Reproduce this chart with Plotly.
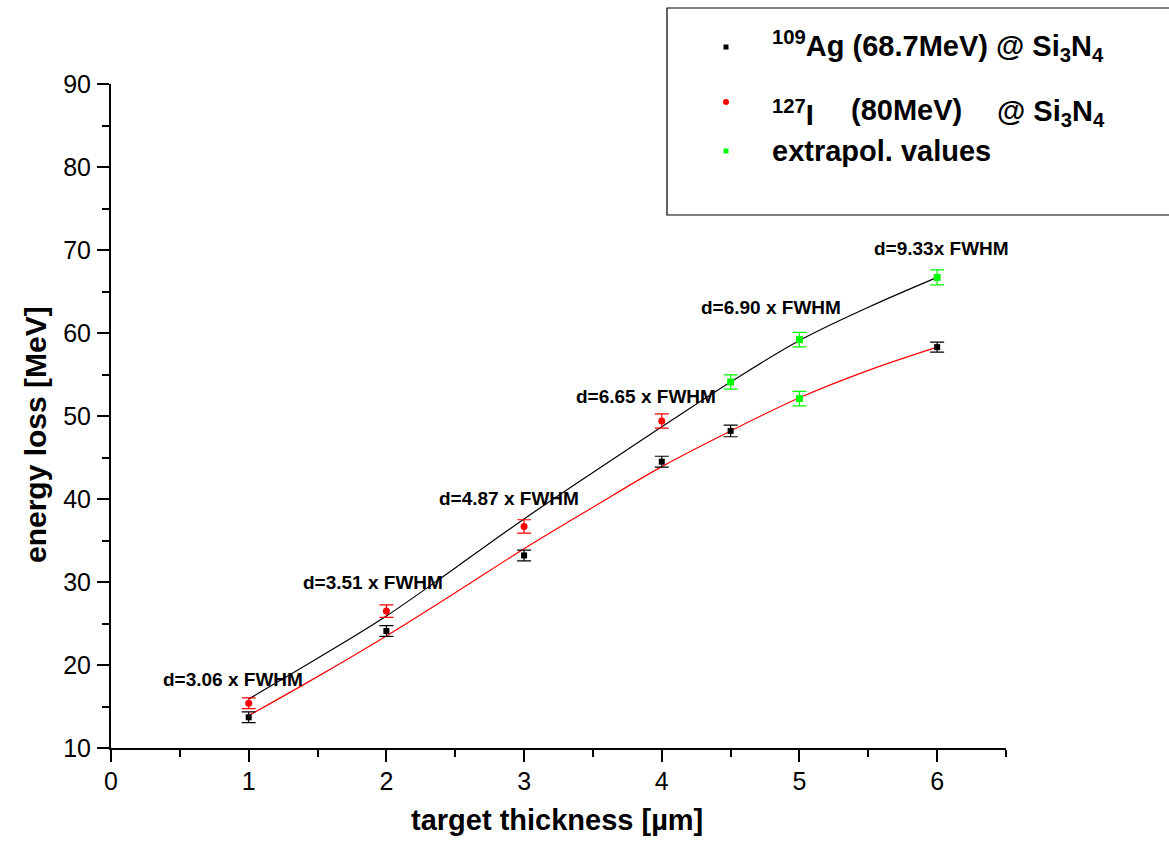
import plotly.graph_objects as go

# ---- measured energy losses ----
ag_x = [1, 2, 3, 4, 4.5, 6]
ag_y = [13.7, 24.1, 33.2, 44.5, 48.2, 58.3]
ag_err = [0.65, 0.65, 0.65, 0.65, 0.7, 0.6]

i_x = [1, 2, 3, 4]
i_y = [15.4, 26.5, 36.7, 49.4]
i_err = [0.65, 0.75, 0.8, 0.85]

ex_x = [4.5, 5, 6, 5]
ex_y = [54.1, 59.2, 66.7, 52.1]
ex_err = [0.85, 0.87, 0.9, 0.87]

# ---- smooth fit curves ----
fit_x = [1, 1.5, 2, 2.5, 3, 3.5, 4, 4.5, 5, 5.5, 6]
fit_upper = [15.9, 20.8, 25.9, 31.7, 37.6, 43.2, 48.7, 54.1, 59.1, 63.1, 66.7]
fit_lower = [13.9, 18.6, 23.5, 28.7, 34.0, 39.0, 43.9, 48.2, 52.2, 55.5, 58.3]

# ---- FWHM labels ----
lab_x = [0.887, 1.905, 2.887, 3.884, 4.79, 6.03]
lab_y = [18.3, 29.9, 40.1, 52.3, 63.1, 70.2]
lab_text = ["d=3.06 x FWHM", "d=3.51 x FWHM", "d=4.87 x FWHM",
            "d=6.65 x FWHM", "d=6.90 x FWHM", "d=9.33x FWHM"]

W, H = 1169, 845
ML, MR, MT, MB = 111, 163, 84, 97
PW, PH = W - ML - MR, H - MT - MB
FONT = "Liberation Sans, Arial, Helvetica, sans-serif"


def px(x):
    return (x - ML) / PW


def py(y):
    return (H - MB - y) / PH


fig = go.Figure()

fig.add_trace(go.Scatter(x=fit_x, y=fit_upper, mode="lines", line_shape="spline",
                         line=dict(color="black", width=1.2), hoverinfo="skip"))
fig.add_trace(go.Scatter(x=fit_x, y=fit_lower, mode="lines", line_shape="spline",
                         line=dict(color="#ff0000", width=1.2), hoverinfo="skip"))

fig.add_trace(go.Scatter(
    x=ag_x, y=ag_y, mode="markers",
    marker=dict(symbol="square", size=6, color="black"),
    error_y=dict(type="data", array=ag_err, color="black", thickness=1.2, width=7)))
fig.add_trace(go.Scatter(
    x=i_x, y=i_y, mode="markers",
    marker=dict(symbol="circle", size=7, color="#ff0000"),
    error_y=dict(type="data", array=i_err, color="#ff0000", thickness=1.2, width=7)))
fig.add_trace(go.Scatter(
    x=ex_x, y=ex_y, mode="markers",
    marker=dict(symbol="square", size=7, color="#00ff00"),
    error_y=dict(type="data", array=ex_err, color="#00ff00", thickness=1.2, width=7)))

annotations = []
for x, y, t in zip(lab_x, lab_y, lab_text):
    annotations.append(dict(x=x, y=y, xref="x", yref="y", text=t, showarrow=False,
                            font=dict(family=FONT, size=19, color="black", weight="bold"),
                            xanchor="center", yanchor="middle"))

# axis titles
annotations.append(dict(x=px(557), y=py(820), xref="paper", yref="paper",
                        text="target thickness [µm]", showarrow=False,
                        font=dict(family=FONT, size=29, color="black", weight="bold"),
                        xanchor="center", yanchor="middle"))
annotations.append(dict(x=px(35), y=py(435), xref="paper", yref="paper",
                        text="energy loss [MeV]", showarrow=False, textangle=-90,
                        font=dict(family=FONT, size=30, color="black", weight="bold"),
                        xanchor="center", yanchor="middle"))

# legend box entries
leg_font = dict(family=FONT, size=29, color="black", weight="bold")
annotations.append(dict(x=px(770), y=py(46), xref="paper", yref="paper",
                        text="<sup>109</sup>Ag (68.7MeV) @ Si<sub>3</sub>N<sub>4</sub>",
                        showarrow=False, font=leg_font, xanchor="left", yanchor="middle"))
annotations.append(dict(x=px(770), y=py(113), xref="paper", yref="paper",
                        text="<sup>127</sup>I", showarrow=False, font=leg_font,
                        xanchor="left", yanchor="middle"))
annotations.append(dict(x=px(849), y=py(110), xref="paper", yref="paper",
                        text="(80MeV)", showarrow=False, font=leg_font,
                        xanchor="left", yanchor="middle"))
annotations.append(dict(x=px(995), y=py(113), xref="paper", yref="paper",
                        text="@ Si<sub>3</sub>N<sub>4</sub>", showarrow=False, font=leg_font,
                        xanchor="left", yanchor="middle"))
annotations.append(dict(x=px(770), y=py(151), xref="paper", yref="paper",
                        text="extrapol. values", showarrow=False, font=leg_font,
                        xanchor="left", yanchor="middle"))

shapes = [
    dict(type="rect", xref="paper", yref="paper", x0=px(667), x1=px(1190),
         y0=py(215), y1=py(8), line=dict(color="black", width=1.2), fillcolor="white"),
    dict(type="rect", xref="paper", yref="paper", x0=px(723.5), x1=px(728.5),
         y0=py(49.5), y1=py(44.5), line=dict(width=0), fillcolor="black"),
    dict(type="circle", xref="paper", yref="paper", x0=px(723), x1=px(729),
         y0=py(105), y1=py(99), line=dict(width=0), fillcolor="#ff0000"),
    dict(type="rect", xref="paper", yref="paper", x0=px(723.5), x1=px(728.5),
         y0=py(153.5), y1=py(148.5), line=dict(width=0), fillcolor="#00ff00"),
]

axis_common = dict(showline=True, linecolor="black", linewidth=2, showgrid=False,
                   zeroline=False, ticks="outside", ticklen=12, tickwidth=2,
                   tickcolor="black",
                   tickfont=dict(family=FONT, size=25, color="black"))

fig.update_layout(
    width=W, height=H,
    margin=dict(l=ML, r=MR, t=MT, b=MB, pad=0),
    paper_bgcolor="white", plot_bgcolor="white",
    showlegend=False,
    xaxis=dict(range=[0, 6.5], dtick=1, tick0=0,
               minor=dict(dtick=0.5, ticks="outside", ticklen=7, tickwidth=2,
                          tickcolor="black"),
               ticklabelstandoff=-2, **axis_common),
    yaxis=dict(range=[10, 90], dtick=10, tick0=10,
               minor=dict(dtick=5, ticks="outside", ticklen=7, tickwidth=2,
                          tickcolor="black"),
               ticklabelstandoff=1, **axis_common),
    annotations=annotations,
    shapes=shapes,
)

fig.write_html("out.html")
